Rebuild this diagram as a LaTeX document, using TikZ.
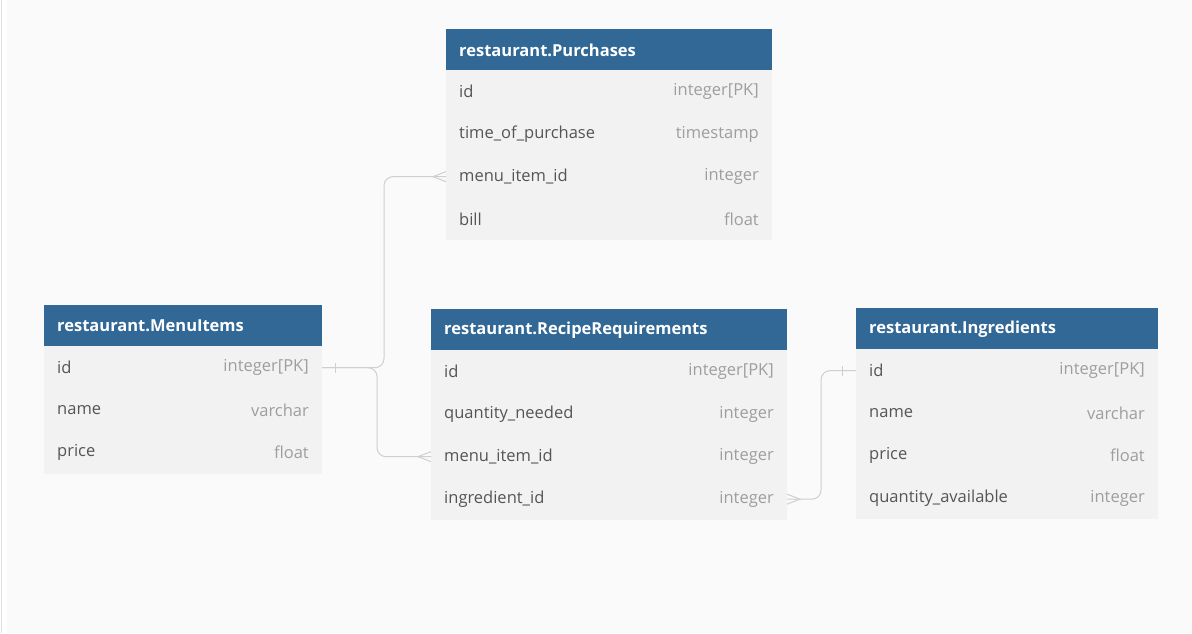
\documentclass[tikz,border=0pt]{standalone}
\usepackage{fontspec}
\setmainfont{Open Sans}
\usetikzlibrary{positioning}
\definecolor{headblue}{HTML}{316896}
\definecolor{rowgray}{HTML}{F2F2F2}
\definecolor{bggray}{HTML}{FAFAFA}
\definecolor{fieldtext}{HTML}{555555}
\definecolor{typetext}{HTML}{9E9E9E}
\definecolor{linkgray}{HTML}{CFCFCF}

\tikzset{
  field/.style={anchor=west, xshift=13pt, inner sep=0pt, text=fieldtext, font=\fontsize{16.5}{19}\selectfont},
  ftype/.style={anchor=east, xshift=-13pt, inner sep=0pt, text=typetext, font=\fontsize{16.5}{19}\selectfont},
  fld/.style 2 args={label={[field]west:#1}, label={[ftype]east:{#2}}},
}

\begin{document}
\begin{tikzpicture}[x=1pt,y=-1pt]
 	\tikzstyle{head}=[rectangle, fill=headblue, inner sep=0pt, outer sep=0pt, minimum height=41pt]
 	\tikzstyle{title}=[anchor=west, xshift=13pt, inner sep=0pt, text=white, font=\fontsize{16.5}{19}\selectfont\bfseries]
 	\tikzstyle{row}=[rectangle, fill=rowgray, inner sep=0pt, outer sep=0pt, minimum height=42.5pt]
 	\tikzstyle{link}=[draw=linkgray, line width=1pt]
 	\fill[bggray] (0,0) rectangle (1192,633);
 	\fill[white] (0,0) rectangle (7,633);
 	\draw[draw=black!12, line width=0.8pt] (1.5,0) -- (1.5,633);
 	\useasboundingbox (0,0) rectangle (1192,633);
 	% purchases
 	\node[head, minimum width=326pt, anchor=north west, label={[title]west:restaurant.Purchases}] (pu) at (446,29) {};
 	\node[row, minimum width=326pt, below=0pt of pu, fld={id}{integer[PK]}] (pu-id) {};
 	\node[row, minimum width=326pt, below=0pt of pu-id, fld={time\_of\_purchase}{timestamp}] (pu-time) {};
 	\node[row, minimum width=326pt, below=0pt of pu-time, fld={menu\_item\_id}{integer}] (pu-menu) {};
 	\node[row, minimum width=326pt, below=0pt of pu-menu, fld={bill}{float}] (pu-bill) {};
 	% menu items
 	\node[head, minimum width=278pt, anchor=north west, label={[title]west:restaurant.MenuItems}] (mi) at (44,305) {};
 	\node[row, minimum width=278pt, below=0pt of mi, fld={id}{integer[PK]}] (mi-id) {};
 	\node[row, minimum width=278pt, below=0pt of mi-id, fld={name}{varchar}] (mi-name) {};
 	\node[row, minimum width=278pt, below=0pt of mi-name, fld={price}{float}] (mi-price) {};
 	% recipe requirements
 	\node[head, minimum width=356pt, anchor=north west, label={[title]west:restaurant.RecipeRequirements}] (rr) at (431,309) {};
 	\node[row, minimum width=356pt, below=0pt of rr, fld={id}{integer[PK]}] (rr-id) {};
 	\node[row, minimum width=356pt, below=0pt of rr-id, fld={quantity\_needed}{integer}] (rr-qty) {};
 	\node[row, minimum width=356pt, below=0pt of rr-qty, fld={menu\_item\_id}{integer}] (rr-menu) {};
 	\node[row, minimum width=356pt, below=0pt of rr-menu, fld={ingredient\_id}{integer}] (rr-ing) {};
 	% ingredients
 	\node[head, minimum width=302pt, anchor=north west, label={[title]west:restaurant.Ingredients}] (in) at (856,308) {};
 	\node[row, minimum width=302pt, below=0pt of in, fld={id}{integer[PK]}] (in-id) {};
 	\node[row, minimum width=302pt, below=0pt of in-id, fld={name}{varchar}] (in-name) {};
 	\node[row, minimum width=302pt, below=0pt of in-name, fld={price}{float}] (in-price) {};
 	\node[row, minimum width=302pt, below=0pt of in-price, fld={quantity\_available}{integer}] (in-qty) {};
 	% relations
 	\draw[link, rounded corners=9pt] (mi-id.east) -- ++(62,0) |- (pu-menu.west);
 	\draw[link, rounded corners=9pt] (mi-id.east) -- ++(55,0) |- (rr-menu.west);
 	\draw[link, rounded corners=9pt] (rr-ing.east) -- ++(34,0) |- (in-id.west);
 	\draw[link] ([xshift=13pt,yshift=-5pt]mi-id.east) -- ([xshift=13pt,yshift=5pt]mi-id.east);
 	\draw[link] ([xshift=-14pt,yshift=-5pt]in-id.west) -- ([xshift=-14pt,yshift=5pt]in-id.west);
 	\draw[link] ([yshift=5pt]pu-menu.west) -- ([xshift=-13pt]pu-menu.west) -- ([yshift=-5pt]pu-menu.west);
 	\draw[link] ([yshift=5pt]rr-menu.west) -- ([xshift=-13pt]rr-menu.west) -- ([yshift=-5pt]rr-menu.west);
 	\draw[link] ([yshift=5pt]rr-ing.east) -- ([xshift=13pt]rr-ing.east) -- ([yshift=-5pt]rr-ing.east);
\end{tikzpicture}
\end{document}
